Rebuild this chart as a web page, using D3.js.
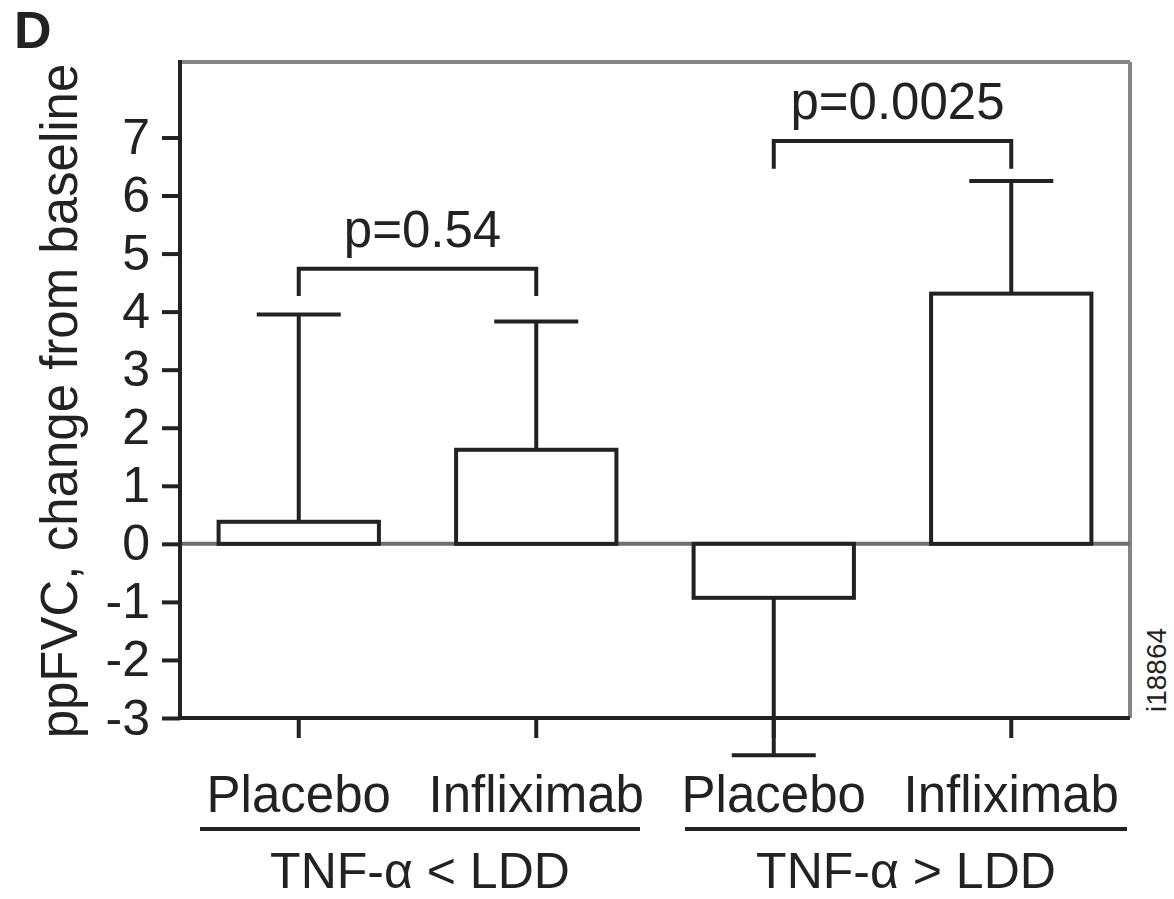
<!DOCTYPE html>
<html>
<head>
<meta charset="utf-8">
<script src="https://cdn.jsdelivr.net/npm/d3@7"></script>
<style>
  body { margin: 0; background: #fff; }
  svg text { font-family: "Liberation Sans", Arial, sans-serif; fill: #222; }
</style>
</head>
<body>
<div id="chart"></div>
<script>

// data

var barLabels = ["Placebo", "Infliximab", "Placebo", "Infliximab"];
var groupLabels = ["TNF-\u03b1 < LDD", "TNF-\u03b1 > LDD"];
var means = [0.38, 1.62, -0.93, 4.31];
var errors = [3.57, 2.21, 2.71, 1.94];
var yTicks = [-3, -2, -1, 0, 1, 2, 3, 4, 5, 6, 7];
var comparisons = [
  { from: 0, to: 1, level: 4.74, drop: 0.47, p: "p=0.54" },
  { from: 2, to: 3, level: 6.94, drop: 0.48, p: "p=0.0025" }
];

var width = 1174,
    height = 899,
    plotLeft = 180,
    plotRight = 1130,
    plotTop = 62,
    plotBottom = 718,
    dark = "#222",
    grey = "#858585";

var svg = d3.select("#chart").append("svg")
  .attr("width", width)
  .attr("height", height);

// scales

var x = d3.scaleBand()
  .domain(d3.range(barLabels.length))
  .range([plotLeft, plotRight]);

var y = d3.scaleLinear()
  .domain([-3, 8.3])
  .range([plotBottom, plotTop]);

var barW = x.bandwidth() * 0.675,
    capW = 84;

function cx(i) { return x(i) + x.bandwidth() / 2; }
function errEnd(d, i) { return d + (d >= 0 ? errors[i] : -errors[i]); }

// frame: top and right in grey, left and bottom dark

svg.append("line")
  .attr("x1", plotLeft).attr("x2", plotRight).attr("y1", plotTop).attr("y2", plotTop)
  .attr("stroke", grey).attr("stroke-width", 4);

svg.append("line")
  .attr("x1", plotRight).attr("x2", plotRight).attr("y1", plotTop).attr("y2", plotBottom)
  .attr("stroke", grey).attr("stroke-width", 4);

// zero line

svg.append("line")
  .attr("x1", plotLeft).attr("x2", plotRight).attr("y1", y(0)).attr("y2", y(0))
  .attr("stroke", "#6e6e6e").attr("stroke-width", 4);

// error bars (one-sided, away from zero)

var eb = svg.selectAll(".err")
  .data(means)
  .enter()
    .append("g")
      .attr("class", "err");

eb.append("line")
  .attr("x1", function(d, i) { return cx(i); })
  .attr("x2", function(d, i) { return cx(i); })
  .attr("y1", function(d) { return y(d); })
  .attr("y2", function(d, i) { return y(errEnd(d, i)); })
  .attr("stroke", dark).attr("stroke-width", 4);

eb.append("line")
  .attr("x1", function(d, i) { return cx(i) - capW / 2; })
  .attr("x2", function(d, i) { return cx(i) + capW / 2; })
  .attr("y1", function(d, i) { return y(errEnd(d, i)); })
  .attr("y2", function(d, i) { return y(errEnd(d, i)); })
  .attr("stroke", dark).attr("stroke-width", 4);

// bars

svg.selectAll(".bar")
  .data(means)
  .enter()
    .append("rect")
      .attr("class", "bar")
      .attr("x", function(d, i) { return cx(i) - barW / 2; })
      .attr("width", barW)
      .attr("y", function(d) { return y(Math.max(0, d)); })
      .attr("height", function(d) { return Math.abs(y(d) - y(0)); })
      .attr("fill", "#fff")
      .attr("stroke", dark)
      .attr("stroke-width", 4);

// left axis

var yAxis = svg.append("g")
  .attr("transform", "translate(" + plotLeft + ",0)")
  .call(d3.axisLeft(y)
    .tickValues(yTicks)
    .tickSize(18)
    .tickSizeOuter(0)
    .tickPadding(12)
    .tickFormat(function(d) { return String(d); }));

yAxis.select(".domain").remove();
yAxis.selectAll(".tick line").attr("stroke", dark).attr("stroke-width", 4);
yAxis.selectAll(".tick text")
  .style("font-size", "50px")
  .attr("fill", dark);

svg.append("line")
  .attr("x1", plotLeft).attr("x2", plotLeft).attr("y1", plotTop - 2).attr("y2", plotBottom + 2)
  .attr("stroke", dark).attr("stroke-width", 4);

// bottom axis

var xAxis = svg.append("g")
  .attr("transform", "translate(0," + plotBottom + ")")
  .call(d3.axisBottom(x)
    .tickSize(20)
    .tickSizeOuter(0)
    .tickPadding(38)
    .tickFormat(function(i) { return barLabels[i]; }));

xAxis.select(".domain").remove();
xAxis.selectAll(".tick line").attr("stroke", dark).attr("stroke-width", 4);
xAxis.selectAll(".tick text")
  .style("font-size", "51px")
  .attr("fill", dark);

svg.append("line")
  .attr("x1", plotLeft - 2).attr("x2", plotRight).attr("y1", plotBottom).attr("y2", plotBottom)
  .attr("stroke", dark).attr("stroke-width", 4);

// group underlines and labels

var groupSpans = [[200, 640], [685, 1127]];

groupLabels.forEach(function(g, k) {
  svg.append("line")
    .attr("x1", groupSpans[k][0]).attr("x2", groupSpans[k][1])
    .attr("y1", 829).attr("y2", 829)
    .attr("stroke", dark).attr("stroke-width", 4);

  svg.append("text")
    .attr("x", (groupSpans[k][0] + groupSpans[k][1]) / 2)
    .attr("y", 888)
    .attr("text-anchor", "middle")
    .style("font-size", "50px")
    .text(g);
});

// significance brackets

comparisons.forEach(function(c) {
  var x1 = cx(c.from), x2 = cx(c.to);
  svg.append("path")
    .attr("d", "M" + x1 + "," + y(c.level - c.drop) + "V" + y(c.level) + "H" + x2 + "V" + y(c.level - c.drop))
    .attr("fill", "none")
    .attr("stroke", dark)
    .attr("stroke-width", 4);

  svg.append("text")
    .attr("x", (x1 + x2) / 2 + 5)
    .attr("y", y(c.level) - 22)
    .attr("text-anchor", "middle")
    .style("font-size", "51px")
    .text(c.p);
});

// y axis title

svg.append("text")
  .attr("transform", "translate(77,401) rotate(-90)")
  .attr("text-anchor", "middle")
  .style("font-size", "51px")
  .text("ppFVC, change from baseline");

// panel letter

svg.append("text")
  .attr("x", 14)
  .attr("y", 48)
  .style("font-size", "52px")
  .style("font-weight", "bold")
  .text("D");

// figure id

svg.append("text")
  .attr("transform", "translate(1166,670) rotate(-90)")
  .attr("text-anchor", "middle")
  .style("font-size", "28px")
  .attr("fill", "#555")
  .text("i18864");

</script>
</body>
</html>
